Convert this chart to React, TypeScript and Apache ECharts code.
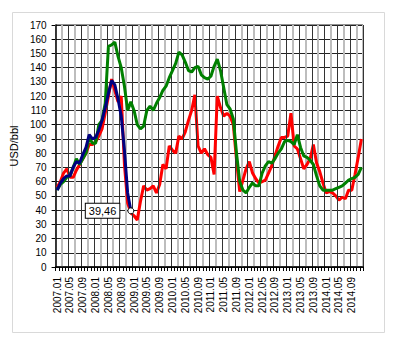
import React, { useEffect, useRef } from "react";
import * as echarts from "echarts";

const years = [2007, 2008, 2009, 2010, 2011, 2012, 2013, 2014];
const months = ["01", "02", "03", "04", "05", "06", "07", "08", "09", "10", "11", "12"];
const categories: string[] = [];
years.forEach((y) => months.forEach((m) => categories.push(`${y}.${m}`)));

const yTicks = { min: 0, max: 170, step: 10 };

// Red series (monthly, 2007.01 - 2014.12)
const redSeries = [
  56, 60, 66, 69, 63, 63, 68, 72, 76, 80, 86, 86,
  88, 92, 97, 108, 120, 132, 124, 116, 120, 72, 45, 38,
  36, 33, 46, 57, 54, 55, 57, 52, 58, 72, 69, 85,
  82, 80, 92, 90, 95, 103, 110, 121, 85, 80, 83, 79,
  77, 65, 120, 112, 106, 108, 106, 100, 75, 53, 61, 69,
  74, 66, 62, 59, 60, 61, 66, 71, 78, 85, 91, 91,
  92, 108, 85, 83, 76, 69, 72, 76, 86, 73, 67, 59,
  52, 53, 52, 50, 47, 49, 48, 54, 54, 65, 77, 90,
];

// Green series
const greenSeries = [
  54, 58, 60, 63, 64, 70, 76, 72, 76, 80, 91, 87,
  87, 100, 103, 115, 155, 156, 158, 148, 140, 127, 110, 116,
  110, 100, 97, 99, 110, 113, 110, 115, 119, 124, 127, 133,
  138, 143, 151, 149, 144, 138, 137, 140, 141, 135, 133, 132,
  134, 141, 146, 138, 126, 114, 111, 104, 80, 60, 54, 52,
  56, 59, 57, 57, 66, 71, 74, 73, 76, 80, 83, 88,
  89, 88, 86, 93, 84, 78, 77, 75, 72, 64, 57, 54,
  54, 54, 54, 55, 56, 57, 59, 61, 62, 63, 65, 70,
];

// Blue series (2007.01 - 2008.12)
const blueSeries = [
  54, 59, 62, 64, 64, 70, 74, 73, 79, 84, 93, 90,
  91, 96, 103, 112, 122, 131, 128, 118, 106, 82, 52, 39.46,
];

const lastLabel = "39,46";

export default function App() {
  const ref = useRef<HTMLDivElement>(null);
  useEffect(() => {
    if (!ref.current) return;
    const chart = echarts.init(ref.current, null, { renderer: "svg" });
    const font = "Liberation Sans, Arial, sans-serif";
    const lastIdx = blueSeries.length - 1;
    const blueData: any[] = blueSeries.map((v, i) =>
      i === lastIdx
        ? {
            value: v,
            label: {
              show: true,
              position: "left",
              distance: 8,
              formatter: lastLabel,
              color: "#000",
              fontSize: 11,
              fontFamily: font,
              backgroundColor: "#fff",
              borderColor: "#000",
              borderWidth: 1,
              padding: [2, 3, 1, 3],
            },
            itemStyle: { color: "#fff", borderColor: "#000", borderWidth: 1 },
          }
        : v
    );
    chart.setOption({
      animation: false,
      backgroundColor: "#fff",
      textStyle: { fontFamily: font },
      graphic: [
        {
          type: "rect",
          shape: { x: 12.5, y: 12.5, width: 372, height: 320 },
          style: { fill: "none", stroke: "#d9d9d9", lineWidth: 1 },
          silent: true,
        },
      ],
      grid: {
        left: 50,
        top: 25,
        width: 313,
        height: 242,
        show: true,
        borderColor: "#222",
        borderWidth: 1,
      },
      xAxis: [
        {
          type: "category",
          data: categories,
          boundaryGap: true,
          axisLine: { lineStyle: { color: "#000", width: 1.5 } },
          axisTick: { show: true, interval: 0, length: 4, lineStyle: { color: "#000" } },
          axisLabel: {
            interval: 3,
            rotate: 90,
            fontSize: 10,
            margin: 10,
            color: "#000",
            fontFamily: font,
          },
          splitLine: {
            show: true,
            interval: (i: number) => i % 4 === 0,
            lineStyle: { color: "#333", width: 1 },
          },
          z: 3,
        },
        {
          type: "category",
          data: categories,
          boundaryGap: true,
          position: "top",
          axisLine: { show: false },
          axisTick: { show: false },
          axisLabel: { show: false },
          splitLine: {
            show: true,
            interval: (i: number) => i % 4 === 2,
            lineStyle: { color: "#bdbdbd", width: 2 },
          },
        },
      ],
      yAxis: {
        type: "value",
        min: yTicks.min,
        max: yTicks.max,
        interval: yTicks.step,
        name: "USD/bbl",
        nameLocation: "middle",
        nameGap: 21,
        nameTextStyle: { fontSize: 11, color: "#000", fontFamily: font },
        axisLine: { show: true, lineStyle: { color: "#000", width: 1.5 } },
        axisTick: { show: true, length: 4, lineStyle: { color: "#000" } },
        axisLabel: { fontSize: 10, margin: 9, color: "#000", fontFamily: font },
        splitLine: { show: true, lineStyle: { color: "#222", width: 1 } },
      },
      series: [
        {
          type: "line",
          data: redSeries,
          symbol: "none",
          lineStyle: { color: "#ff0000", width: 3 },
          itemStyle: { color: "#ff0000" },
          z: 2,
        },
        {
          type: "line",
          data: greenSeries,
          symbol: "none",
          lineStyle: { color: "#008000", width: 3 },
          itemStyle: { color: "#008000" },
          z: 3,
        },
        {
          type: "line",
          data: blueData,
          symbol: "circle",
          showSymbol: true,
          showAllSymbol: true,
          symbolSize: (_v: any, p: any) => (p.dataIndex === lastIdx ? 6 : 0),
          lineStyle: { color: "#000080", width: 3 },
          itemStyle: { color: "#000080" },
          z: 4,
        },
      ],
    });
    return () => chart.dispose();
  }, []);
  return (
    <div
      ref={ref}
      style={{ position: "fixed", left: 0, top: 0, width: 408, height: 352 }}
    />
  );
}
